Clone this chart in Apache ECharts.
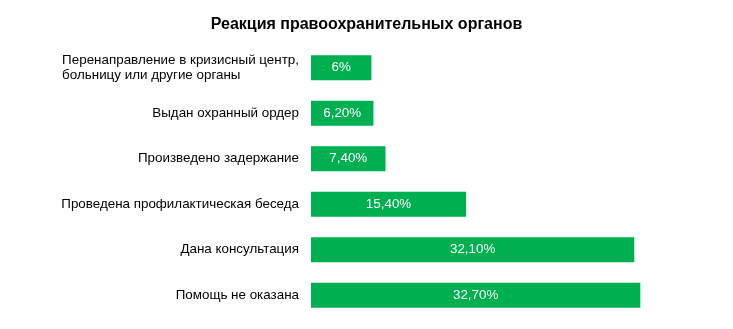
<!DOCTYPE html>
<html>
<head>
<meta charset="utf-8">
<script src="https://cdn.jsdelivr.net/npm/echarts@6/dist/echarts.min.js"></script>
<style>
  html, body { margin: 0; padding: 0; background: #ffffff; }
  #chart { width: 733px; height: 329px; }
</style>
</head>
<body>
<div id="chart"></div>
<script>
// Response categories, listed from top to bottom
const categories = [
  'Перенаправление в кризисный центр,\nбольницу или другие органы',
  'Выдан охранный ордер',
  'Произведено задержание',
  'Проведена профилактическая беседа',
  'Дана консультация',
  'Помощь не оказана'
];
// Share of responses, percent
const values = [6, 6.2, 7.4, 15.4, 32.1, 32.7];
// Text shown inside each bar
const valueLabels = ['6%', '6,20%', '7,40%', '15,40%', '32,10%', '32,70%'];

const FONT = 'Liberation Sans, Arial, sans-serif';
const chart = echarts.init(document.getElementById('chart'), null, { renderer: 'canvas' });

chart.setOption({
  animation: false,
  backgroundColor: '#ffffff',
  title: {
    text: 'Реакция правоохранительных органов',
    left: 'center',
    top: 12,
    textStyle: {
      fontFamily: FONT,
      fontSize: 16,
      fontWeight: 'bold',
      color: '#000000'
    }
  },
  grid: { left: 311, top: 45, width: 352.5, height: 273 },
  xAxis: {
    type: 'value',
    min: 0,
    max: 35,
    show: false
  },
  yAxis: {
    type: 'category',
    inverse: true,
    data: categories,
    axisLine: { show: false },
    axisTick: { show: false },
    axisLabel: {
      margin: 12,
      fontFamily: FONT,
      fontSize: 13.4,
      lineHeight: 15.5,
      color: '#000000',
      align: 'right',
      // multi-line names keep their lines flush left inside the block
      formatter: v => v.indexOf('\n') >= 0
        ? v.split('\n').map(s => '{l|' + s + '}').join('\n')
        : v,
      rich: {
        l: { align: 'left', fontFamily: FONT, fontSize: 13.4, lineHeight: 15.5, color: '#000000' }
      }
    }
  },
  series: [{
    type: 'bar',
    data: values,
    barCategoryGap: '45%',
    itemStyle: { color: '#00B050' },
    label: {
      show: true,
      position: 'inside',
      color: '#ffffff',
      fontFamily: FONT,
      fontSize: 13.4,
      formatter: p => valueLabels[p.dataIndex]
    }
  }]
});
</script>
</body>
</html>
